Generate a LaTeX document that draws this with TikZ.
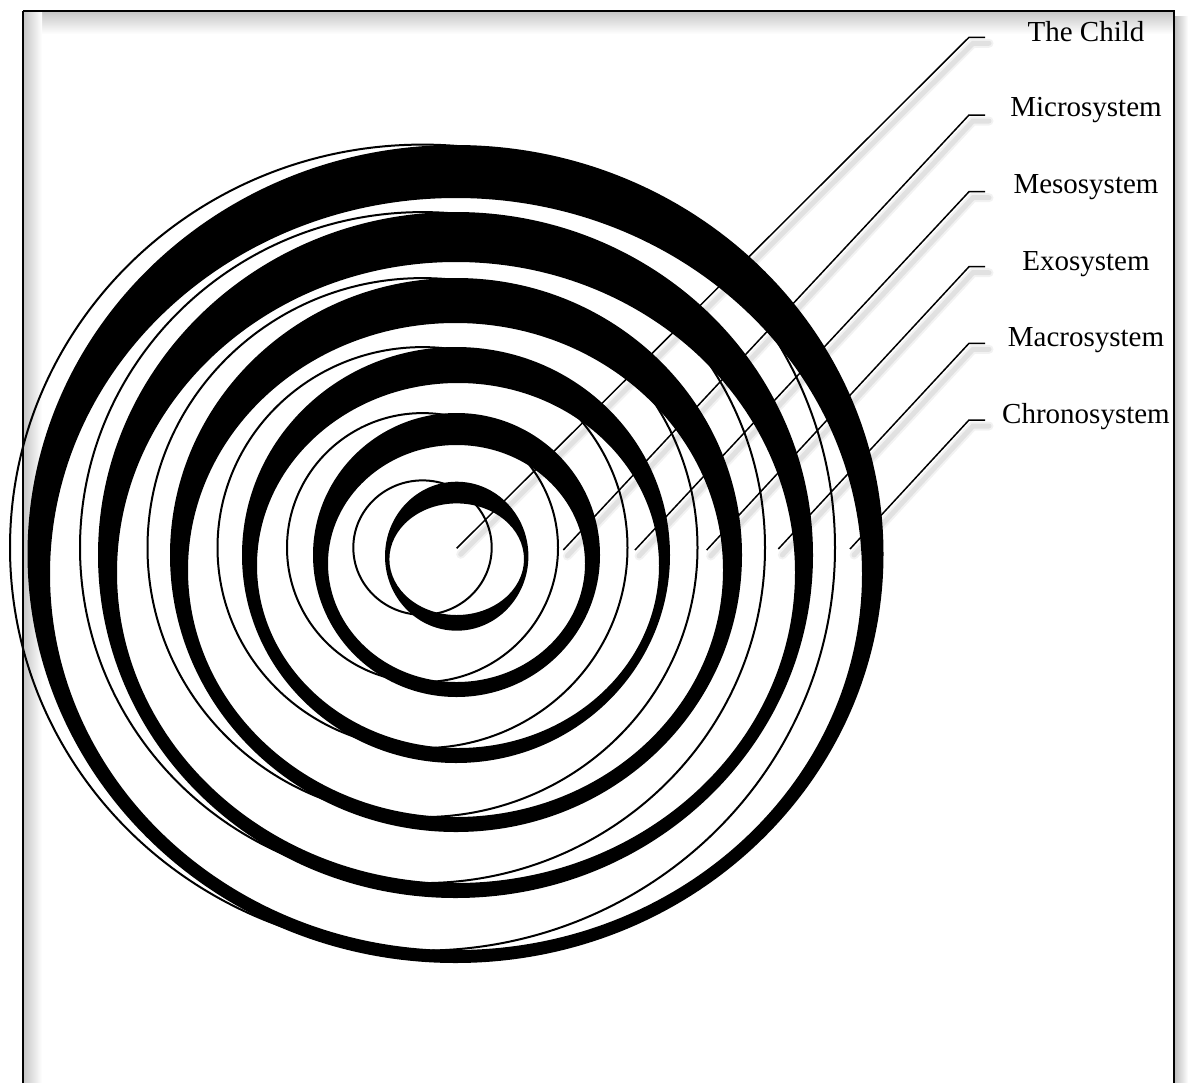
\documentclass[tikz,border=0pt]{standalone}
\usepackage{fontspec}
\setmainfont{Liberation Serif}
\begin{document}
\begin{tikzpicture}[x=1pt,y=-1pt,
  ringband/.style={fill=black,even odd rule},
  ringline/.style={draw=black,line width=2pt},
  leader/.style={draw=black,line width=1.5pt},
  leadershadow/.style={draw=black,line cap=round,transform canvas={xshift=4pt,yshift=-6pt}},
  lbl/.style={anchor=base,inner sep=0pt,font=\fontsize{29}{34}\selectfont},
  framebox/.style={draw=black,line width=2pt}]
\useasboundingbox (0,0) rectangle (1188,1082);
% frame with soft shadow
\shade[top color=black!22,bottom color=white] (24,12) rectangle (1173,34);
\shade[left color=black!22,right color=white] (24,12) rectangle (42,1082);
\shade[left color=black!25,right color=white] (1175,16) rectangle (1188,1082);
\draw[framebox] (23,11) -- (1174,11) -- (1174,1090) (23,11) -- (23,1090);
% black bands: outer ellipse minus lower, flatter hole
\foreach \ox/\oy/\oa/\ob/\hx/\hy/\ha/\hb in {
  455.5/554/428/409/456/574/406/376,
  455.5/555/357.5/343/456/572.5/339/310.5,
  456/555/286/277/455.5/570/267.5/247,
  456/555/214/208/458/565.5/201/182.5,
  456.5/555/143.5/142/456.5/563.5/128.5/118.5,
  456.7/556.2/71.7/74.5/456.7/559.2/67.3/55.8}{
  \fill[ringband] (\ox,\oy) ellipse [x radius=\oa pt, y radius=\ob pt]
                  (\hx,\hy) ellipse [x radius=\ha pt, y radius=\hb pt];
}
% thin outlines shifted left
\foreach \ta/\tb in {412.5/403, 342.5/335.5, 275/269.5, 205/200.5, 135.5/134.5, 69.2/67.2}{
  \draw[ringline] (422.5,547.6) ellipse [x radius=\ta pt, y radius=\tb pt];
}
% labels and leader lines
\foreach \i/\txt/\base/\ty/\ex/\ey in {
  1/The Child/41.7/37.3/456.7/548.3,
  2/Microsystem/116.7/115/563.3/550,
  3/Mesosystem/193.3/191.7/635/550,
  4/Exosystem/270/266.7/706.7/550,
  5/Macrosystem/346.7/343.3/778.3/549,
  6/Chronosystem/423.3/420/850/549}{
  \coordinate (tick-\i) at (985,\ty);
  \coordinate (corner-\i) at (969,\ty);
  \coordinate (end-\i) at (\ex,\ey);
  \draw[leadershadow,line width=9pt,opacity=0.05] (tick-\i) -- (corner-\i) -- (end-\i);
  \draw[leadershadow,line width=5pt,opacity=0.07] (tick-\i) -- (corner-\i) -- (end-\i);
  \draw[leader] (tick-\i) -- (corner-\i) -- (end-\i);
  \node[lbl] (label-\i) at (1086,\base) {\txt};
}
\end{tikzpicture}
\end{document}
